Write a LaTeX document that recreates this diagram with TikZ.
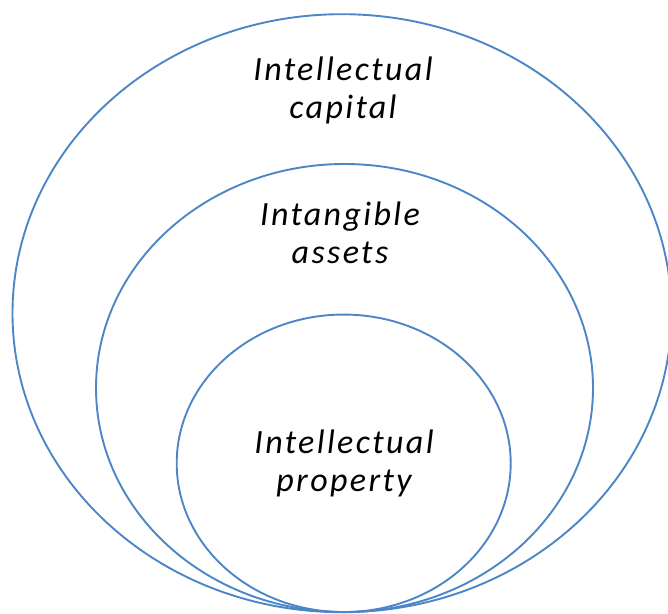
\documentclass[tikz,border=0pt]{standalone}
\usepackage{fontspec}
\setmainfont{Carlito}[LetterSpace=7]
\usetikzlibrary{shapes.geometric}
\definecolor{ringblue}{RGB}{76,134,198}
\tikzset{
  ring/.style={draw=ringblue, line width=1.9pt, ellipse, inner sep=0pt, fill=none},
  label/.style={align=center, anchor=base, inner sep=0pt,
    font={\fontsize{34}{38}\selectfont\itshape}}
}
\begin{document}
\begin{tikzpicture}[x=1pt,y=-1pt]
\useasboundingbox (0,0) rectangle (668,613);
\node[ring, minimum width=659pt, minimum height=598pt] (outer) at (342,313.2) {};
\node[ring, minimum width=497pt, minimum height=448pt] (middle) at (344.5,388) {};
\node[ring, minimum width=334pt, minimum height=297.5pt] (inner) at (343.7,463.3) {};
\node[label] (tcap) at (343,118) {Intellectual\\capital};
\node[label] (tint) at (340,263) {Intangible\\assets};
\node[label] (tip) at (344,491) {Intellectual\\property};
\end{tikzpicture}
\end{document}
